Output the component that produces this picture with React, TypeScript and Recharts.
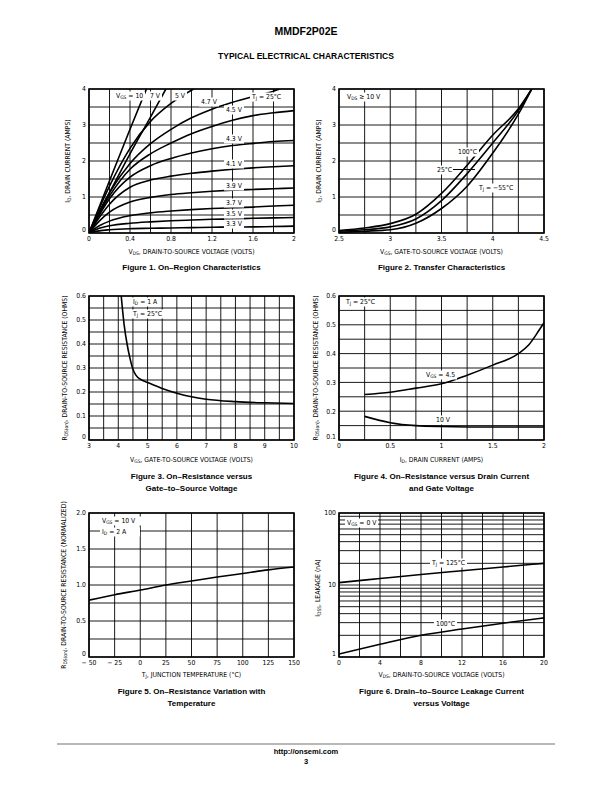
import React from 'react';
import { LineChart, Line, XAxis, YAxis, CartesianGrid, ReferenceArea } from 'recharts';

// ---- Figure 1: on-region characteristics ----
const fig1Vds = [0, 0.1, 0.2, 0.4, 0.6, 0.8, 1.0, 1.2, 1.4, 1.6, 1.8, 2.0];
const fig1Id33 = [0, 0.06, 0.09, 0.12, 0.13, 0.14, 0.15, 0.16, 0.165, 0.17, 0.18, 0.19];
const fig1Id35 = [0, 0.13, 0.2, 0.27, 0.31, 0.34, 0.36, 0.38, 0.39, 0.41, 0.42, 0.43];
const fig1Id37 = [0, 0.2, 0.33, 0.48, 0.56, 0.61, 0.65, 0.68, 0.7, 0.72, 0.75, 0.77];
const fig1Id39 = [0, 0.33, 0.58, 0.86, 0.99, 1.07, 1.12, 1.16, 1.19, 1.21, 1.23, 1.25];
const fig1Id41 = [0, 0.43, 0.8, 1.27, 1.47, 1.58, 1.66, 1.72, 1.77, 1.81, 1.84, 1.87];
const fig1Id43 = [0, 0.5, 0.95, 1.55, 1.87, 2.07, 2.22, 2.34, 2.43, 2.49, 2.54, 2.57];
const fig1Id45 = [0, 0.55, 1.03, 1.77, 2.2, 2.5, 2.76, 2.96, 3.13, 3.26, 3.34, 3.4];
const fig1Vds47 = [0, 0.1, 0.2, 0.4, 0.6, 0.8, 1.0, 1.2, 1.4, 1.6, 1.8, 1.86];
const fig1Id47 = [0, 0.6, 1.12, 1.93, 2.48, 2.88, 3.2, 3.44, 3.63, 3.79, 3.94, 4.0];
const fig1Vds5 = [0, 0.1, 0.2, 0.4, 0.6, 0.8, 1.02];
const fig1Id5 = [0, 0.68, 1.3, 2.35, 3.1, 3.6, 4.0];
const fig1Vds7 = [0, 0.2, 0.4, 0.6, 0.75];
const fig1Id7 = [0, 1.12, 2.2, 3.22, 4.0];
const fig1Vds10 = [0, 0.2, 0.4, 0.56];
const fig1Id10 = [0, 1.45, 2.88, 4.0];
const fig1XTicks = [0, 0.2, 0.4, 0.6, 0.8, 1.0, 1.2, 1.4, 1.6, 1.8, 2.0];
const fig1XLabels = [0, 0.4, 0.8, 1.2, 1.6, 2];
const fig1YTicks = [0, 0.5, 1, 1.5, 2, 2.5, 3, 3.5, 4];
const fig1YLabels = [0, 1, 2, 3, 4];

// ---- Figure 2: transfer characteristics ----
const fig2Vgs = [2.5, 2.75, 3.0, 3.25, 3.5, 3.75, 4.0, 4.25, 4.38];
const fig2Id100 = [0.07, 0.14, 0.26, 0.52, 1.1, 1.88, 2.72, 3.45, 4.0];
const fig2Id25 = [0.05, 0.09, 0.17, 0.39, 0.9, 1.65, 2.5, 3.4, 4.0];
const fig2IdM55 = [0.02, 0.05, 0.09, 0.27, 0.68, 1.3, 2.22, 3.3, 4.0];
const fig2XTicks = [2.5, 2.75, 3, 3.25, 3.5, 3.75, 4, 4.25, 4.5];
const fig2XLabels = [2.5, 3, 3.5, 4, 4.5];

// ---- Figure 3: on-resistance vs gate voltage ----
const fig3Vgs = [4.1, 4.2, 4.3, 4.4, 4.5, 4.6, 4.8, 5, 5.5, 6, 6.5, 7, 8, 9, 10];
const fig3Rds = [0.6, 0.48, 0.4, 0.34, 0.295, 0.27, 0.25, 0.24, 0.215, 0.195, 0.18, 0.17, 0.16, 0.155, 0.152];
const fig3XTicks = [3, 3.5, 4, 4.5, 5, 5.5, 6, 6.5, 7, 7.5, 8, 8.5, 9, 9.5, 10];
const fig3XLabels = [3, 4, 5, 6, 7, 8, 9, 10];
const fig3YTicks = [0, 0.05, 0.1, 0.15, 0.2, 0.25, 0.3, 0.35, 0.4, 0.45, 0.5, 0.55, 0.6];
const fig3YLabels = [0, 0.1, 0.2, 0.3, 0.4, 0.5, 0.6];

// ---- Figure 4: on-resistance vs drain current ----
const fig4Id45 = [0.25, 0.5, 0.75, 1.0, 1.25, 1.5, 1.75, 1.85, 1.95, 2.0];
const fig4Rds45 = [0.258, 0.266, 0.28, 0.295, 0.325, 0.36, 0.4, 0.43, 0.48, 0.507];
const fig4Id10 = [0.25, 0.5, 0.75, 1.0, 1.5, 2.0];
const fig4Rds10 = [0.182, 0.16, 0.15, 0.147, 0.145, 0.145];
const fig4XTicks = [0, 0.25, 0.5, 0.75, 1, 1.25, 1.5, 1.75, 2];
const fig4XLabels = [0, 0.5, 1, 1.5, 2];
const fig4YTicks = [0.1, 0.15, 0.2, 0.25, 0.3, 0.35, 0.4, 0.45, 0.5, 0.55, 0.6];
const fig4YLabels = [0.1, 0.2, 0.3, 0.4, 0.5, 0.6];

// ---- Figure 5: on-resistance vs temperature ----
const fig5Temp = [-50, -25, 0, 25, 50, 75, 100, 125, 150];
const fig5Rnorm = [0.79, 0.865, 0.93, 1.0, 1.055, 1.11, 1.16, 1.21, 1.25];
const fig5XTicks = [-50, -25, 0, 25, 50, 75, 100, 125, 150];
const fig5YTicks = [0, 0.25, 0.5, 0.75, 1, 1.25, 1.5, 1.75, 2];
const fig5YLabels = [0, 0.5, 1, 1.5, 2];

// ---- Figure 6: leakage vs voltage ----
const fig6Vds = [0, 4, 8, 12, 16, 20];
const fig6Leak125 = [10.8, 12.3, 14, 15.8, 17.8, 20];
const fig6Leak100 = [1.1, 1.5, 2.0, 2.45, 2.95, 3.5];
const fig6XTicks = [0, 2, 4, 6, 8, 10, 12, 14, 16, 18, 20];
const fig6XLabels = [0, 4, 8, 12, 16, 20];
const fig6YTicks = [1, 2, 3, 4, 5, 6, 7, 8, 9, 10, 20, 30, 40, 50, 60, 70, 80, 90, 100];
const fig6YLabels = [1, 10, 100];

const NARROW = '"Liberation Sans Narrow", "Arial Narrow", "DejaVu Sans Condensed", sans-serif';
const BOLD = '"Liberation Sans", Arial, sans-serif';
const W = 205;
const H = 144;

const zip = (xs: number[], ys: number[]) => xs.map((x, i) => ({ x, y: ys[i] }));
const has = (list: number[], v: number) => list.some((l) => Math.abs(l - v) < 1e-9);
const labelFmt = (list: number[], fmt: (v: number) => string = String) => (v: number) =>
  has(list, v) ? fmt(v) : '';

interface AxisSpec {
  domain: [number, number];
  ticks: number[];
  fmt: (v: number) => string;
  log?: boolean;
}

const tickFont = { fontSize: 6.8, fill: '#000', fontFamily: NARROW };

function Panel({ left, top, x, y, children }: { left: number; top: number; x: AxisSpec; y: AxisSpec; children: React.ReactNode }) {
  // bottom y label sits a little higher so it clears the first x label
  const yTick = (p: any) => {
    const label = y.fmt(p.payload.value);
    if (!label) return <g />;
    const shift = Math.abs(p.payload.value - y.domain[0]) < 1e-9 ? -3 : 0;
    return (
      <text x={p.x} y={p.y + shift} dy="0.355em" textAnchor="end" {...tickFont}>
        {label}
      </text>
    );
  };
  return (
    <div style={{ position: 'absolute', left: left - 40, top: top - 10, zIndex: 0 }}>
      <LineChart width={W + 50} height={H + 40} margin={{ top: 10, right: 10, left: 0, bottom: 0 }}>
        <CartesianGrid stroke="#000" strokeWidth={0.9} />
        <XAxis
          type="number"
          dataKey="x"
          domain={x.domain}
          ticks={x.ticks}
          interval={0}
          tickFormatter={x.fmt}
          tickLine={false}
          axisLine={false}
          tickSize={0}
          tickMargin={3}
          height={30}
          tick={tickFont}
          allowDataOverflow
        />
        <YAxis
          type="number"
          scale={y.log ? 'log' : 'auto'}
          domain={y.domain}
          ticks={y.ticks}
          interval={0}
          tickLine={false}
          axisLine={false}
          tickSize={0}
          tickMargin={3}
          width={40}
          tick={yTick}
          allowDataOverflow
        />
        <ReferenceArea x1={x.domain[0]} x2={x.domain[1]} y1={y.domain[0]} y2={y.domain[1]} fill="none" stroke="#000" strokeWidth={1.6} />
        {children}
      </LineChart>
    </div>
  );
}

const curve = (xs: number[], ys: number[], key: string) => (
  <Line
    key={key}
    data={zip(xs, ys)}
    dataKey="y"
    type="monotone"
    dot={false}
    stroke="#000"
    strokeWidth={1.6}
    isAnimationActive={false}
  />
);

function Note({ x, y, children }: { x: number; y: number; children: React.ReactNode }) {
  return (
    <span
      style={{
        position: 'absolute',
        zIndex: 5,
        display: 'block',
        left: x,
        top: y,
        transform: 'translateY(-50%)',
        fontFamily: NARROW,
        fontSize: 6.8,
        lineHeight: '9px',
        backgroundColor: '#fff',
        padding: '0 2px',
        whiteSpace: 'nowrap',
      }}
    >
      {children}
    </span>
  );
}

const S = ({ children }: { children: React.ReactNode }) => (
  <sub style={{ fontSize: '0.72em', verticalAlign: '-0.3em', lineHeight: 0 }}>{children}</sub>
);

function XLabel({ cx, y, children }: { cx: number; y: number; children: React.ReactNode }) {
  return (
    <div style={{ position: 'absolute', left: cx, top: y, transform: 'translate(-50%, -50%)', fontFamily: NARROW, fontSize: 6.8, whiteSpace: 'nowrap' }}>
      {children}
    </div>
  );
}

function YLabel({ cx, cy, children }: { cx: number; cy: number; children: React.ReactNode }) {
  return (
    <div
      style={{
        position: 'absolute',
        left: cx,
        top: cy,
        transform: 'translate(-50%, -50%) rotate(-90deg)',
        fontFamily: NARROW,
        fontSize: 6.8,
        whiteSpace: 'nowrap',
      }}
    >
      {children}
    </div>
  );
}

function Caption({ cx, y, lines }: { cx: number; y: number; lines: string[] }) {
  return (
    <div
      style={{
        position: 'absolute',
        left: cx,
        top: y,
        transform: 'translate(-50%, -6px)',
        fontFamily: BOLD,
        fontWeight: 'bold',
        fontSize: 8,
        lineHeight: '12px',
        textAlign: 'center',
        whiteSpace: 'nowrap',
      }}
    >
      {lines.map((l) => (
        <div key={l}>{l}</div>
      ))}
    </div>
  );
}

const L1 = 89;
const L2 = 339;
const T1 = 89;
const T2 = 296;
const T3 = 513;
const C1 = L1 + W / 2;
const C2 = L2 + W / 2;

export default function App() {
  const one = (v: number) => (v === 0 ? '0' : v.toFixed(1));
  return (
    <div style={{ position: 'absolute', left: 0, top: 0, width: 612, height: 792, background: '#fff', color: '#000' }}>
      <div style={{ position: 'absolute', left: 0, width: 612, top: 25, textAlign: 'center', fontFamily: BOLD, fontWeight: 'bold', fontSize: 10.5 }}>
        MMDF2P02E
      </div>
      <div style={{ position: 'absolute', left: 0, width: 612, top: 51, textAlign: 'center', fontFamily: BOLD, fontWeight: 'bold', fontSize: 8.5 }}>
        TYPICAL ELECTRICAL CHARACTERISTICS
      </div>

      {/* Figure 1 */}
      <Panel
        left={L1}
        top={T1}
        x={{ domain: [0, 2], ticks: fig1XTicks, fmt: labelFmt(fig1XLabels) }}
        y={{ domain: [0, 4], ticks: fig1YTicks, fmt: labelFmt(fig1YLabels) }}
      >
        {[
          curve(fig1Vds, fig1Id33, 'a'),
          curve(fig1Vds, fig1Id35, 'b'),
          curve(fig1Vds, fig1Id37, 'c'),
          curve(fig1Vds, fig1Id39, 'd'),
          curve(fig1Vds, fig1Id41, 'e'),
          curve(fig1Vds, fig1Id43, 'f'),
          curve(fig1Vds, fig1Id45, 'g'),
          curve(fig1Vds47, fig1Id47, 'h'),
          curve(fig1Vds5, fig1Id5, 'i'),
          curve(fig1Vds7, fig1Id7, 'j'),
          curve(fig1Vds10, fig1Id10, 'k'),
        ]}
      </Panel>
      <Note x={114} y={96}>V<S>GS</S> = 10</Note>
      <Note x={148} y={96}>7 V</Note>
      <Note x={173} y={96}>5 V</Note>
      <Note x={199} y={102}>4.7 V</Note>
      <Note x={250} y={97}>T<S>J</S> = 25°C</Note>
      <Note x={224} y={110}>4.5 V</Note>
      <Note x={224} y={139}>4.3 V</Note>
      <Note x={224} y={164}>4.1 V</Note>
      <Note x={224} y={186}>3.9 V</Note>
      <Note x={224} y={203}>3.7 V</Note>
      <Note x={224} y={214}>3.5 V</Note>
      <Note x={224} y={224}>3.3 V</Note>
      <YLabel cx={68} cy={161}>I<S>D</S>, DRAIN CURRENT (AMPS)</YLabel>
      <XLabel cx={C1} y={252}>V<S>DS</S>, DRAIN-TO-SOURCE VOLTAGE (VOLTS)</XLabel>
      <Caption cx={C1} y={268} lines={['Figure 1. On\u2013Region Characteristics']} />

      {/* Figure 2 */}
      <Panel
        left={L2}
        top={T1}
        x={{ domain: [2.5, 4.5], ticks: fig2XTicks, fmt: labelFmt(fig2XLabels) }}
        y={{ domain: [0, 4], ticks: fig1YTicks, fmt: labelFmt(fig1YLabels) }}
      >
        {[curve(fig2Vgs, fig2Id100, 'a'), curve(fig2Vgs, fig2Id25, 'b'), curve(fig2Vgs, fig2IdM55, 'c')]}
      </Panel>
      <Note x={345} y={97}>V<S>DS</S> ≥ 10 V</Note>
      <Note x={456} y={152}>100°C</Note>
      <Note x={435} y={170}>25°C</Note>
      <div style={{ position: 'absolute', zIndex: 5, left: 453, top: 169, width: 22, height: 1, background: '#000' }} />
      <Note x={477} y={188}>T<S>J</S> = −55°C</Note>
      <YLabel cx={319} cy={161}>I<S>D</S>, DRAIN CURRENT (AMPS)</YLabel>
      <XLabel cx={C2} y={252}>V<S>GS</S>, GATE-TO-SOURCE VOLTAGE (VOLTS)</XLabel>
      <Caption cx={C2} y={268} lines={['Figure 2. Transfer Characteristics']} />

      {/* Figure 3 */}
      <Panel
        left={L1}
        top={T2}
        x={{ domain: [3, 10], ticks: fig3XTicks, fmt: labelFmt(fig3XLabels) }}
        y={{ domain: [0, 0.6], ticks: fig3YTicks, fmt: labelFmt(fig3YLabels) }}
      >
        {[curve(fig3Vgs, fig3Rds, 'a')]}
      </Panel>
      <Note x={131} y={302}>I<S>D</S> = 1 A</Note>
      <Note x={131} y={314}>T<S>J</S> = 25°C</Note>
      <YLabel cx={65} cy={368}>R<S>DS(on)</S>, DRAIN-TO-SOURCE RESISTANCE (OHMS)</YLabel>
      <XLabel cx={C1} y={460}>V<S>GS</S>, GATE-TO-SOURCE VOLTAGE (VOLTS)</XLabel>
      <Caption cx={C1} y={477} lines={['Figure 3. On\u2013Resistance versus', 'Gate\u2013to\u2013Source Voltage']} />

      {/* Figure 4 */}
      <Panel
        left={L2}
        top={T2}
        x={{ domain: [0, 2], ticks: fig4XTicks, fmt: labelFmt(fig4XLabels) }}
        y={{ domain: [0.1, 0.6], ticks: fig4YTicks, fmt: labelFmt(fig4YLabels) }}
      >
        {[curve(fig4Id45, fig4Rds45, 'a'), curve(fig4Id10, fig4Rds10, 'b')]}
      </Panel>
      <Note x={344} y={302}>T<S>J</S> = 25°C</Note>
      <Note x={424} y={375}>V<S>GS</S> = 4.5</Note>
      <Note x={434} y={420}>10 V</Note>
      <YLabel cx={316} cy={368}>R<S>DS(on)</S>, DRAIN-TO-SOURCE RESISTANCE (OHMS)</YLabel>
      <XLabel cx={C2} y={460}>I<S>D</S>, DRAIN CURRENT (AMPS)</XLabel>
      <Caption cx={C2} y={477} lines={['Figure 4. On\u2013Resistance versus Drain Current', 'and Gate Voltage']} />

      {/* Figure 5 */}
      <Panel
        left={L1}
        top={T3}
        x={{ domain: [-50, 150], ticks: fig5XTicks, fmt: (v) => (v < 0 ? `\u2212 ${-v}` : String(v)) }}
        y={{ domain: [0, 2], ticks: fig5YTicks, fmt: labelFmt(fig5YLabels, one) }}
      >
        {[curve(fig5Temp, fig5Rnorm, 'a')]}
      </Panel>
      <Note x={100} y={521}>V<S>GS</S> = 10 V&nbsp;&nbsp;&nbsp;</Note>
      <Note x={100} y={532}>I<S>D</S> = 2 A&nbsp;&nbsp;&nbsp;&nbsp;&nbsp;&nbsp;</Note>
      <YLabel cx={64} cy={585}>R<S>DS(on)</S>, DRAIN-TO-SOURCE RESISTANCE (NORMALIZED)</YLabel>
      <XLabel cx={C1} y={675}>T<S>J</S>, JUNCTION TEMPERATURE (°C)</XLabel>
      <Caption cx={C1} y={692} lines={['Figure 5. On\u2013Resistance Variation with', 'Temperature']} />

      {/* Figure 6 */}
      <Panel
        left={L2}
        top={T3}
        x={{ domain: [0, 20], ticks: fig6XTicks, fmt: labelFmt(fig6XLabels) }}
        y={{ domain: [1, 100], ticks: fig6YTicks, fmt: labelFmt(fig6YLabels), log: true }}
      >
        {[curve(fig6Vds, fig6Leak125, 'a'), curve(fig6Vds, fig6Leak100, 'b')]}
      </Panel>
      <Note x={345} y={523}>V<S>GS</S> = 0 V</Note>
      <Note x={430} y={563}>T<S>J</S> = 125°C</Note>
      <Note x={434} y={624}>100°C</Note>
      <YLabel cx={318} cy={588}>I<S>DSS</S>, LEAKAGE (nA)</YLabel>
      <XLabel cx={C2} y={675}>V<S>DS</S>, DRAIN-TO-SOURCE VOLTAGE (VOLTS)</XLabel>
      <Caption cx={C2} y={692} lines={['Figure 6. Drain\u2013to\u2013Source Leakage Current', 'versus Voltage']} />

      {/* footer */}
      <div style={{ position: 'absolute', left: 57, top: 743, width: 498, height: 2, background: '#b8b8b8' }} />
      <div style={{ position: 'absolute', left: 0, width: 612, top: 747, textAlign: 'center', fontFamily: BOLD, fontWeight: 'bold', fontSize: 7.5, lineHeight: '10px' }}>
        http://onsemi.com
        <br />3
      </div>
    </div>
  );
}
